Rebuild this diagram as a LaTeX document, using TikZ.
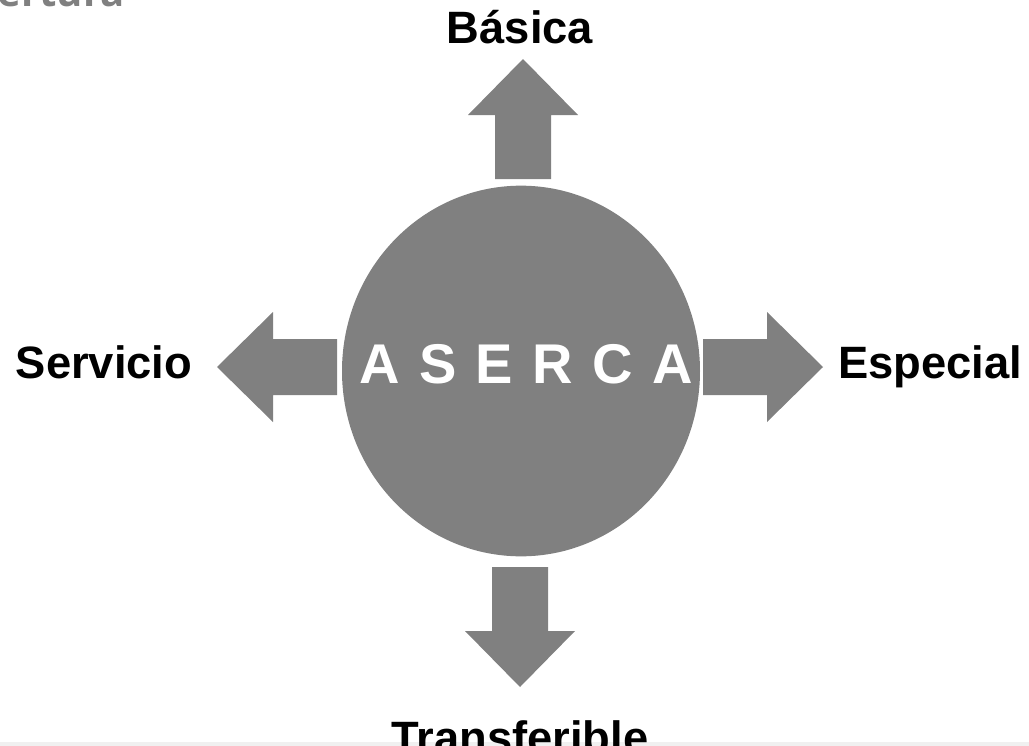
\documentclass[tikz,border=0pt]{standalone}
\usepackage{fontspec}
\setmainfont{Liberation Sans}
\newfontfamily\titlefont{Open Sans}
\definecolor{arrowgray}{HTML}{808080}
\definecolor{stripgray}{HTML}{F0F0F0}
\tikzset{
  label/.style={font=\bfseries\fontsize{34}{34}\selectfont, text=black, inner sep=0pt, anchor=base},
  hub/.style={ellipse, fill=arrowgray, minimum width=268.5pt, minimum height=278pt, inner sep=0pt},
}
\usetikzlibrary{shapes.geometric}
\newcommand{\gapletter}{\hspace{14.5pt}}
\begin{document}
\begin{tikzpicture}[x=0.75pt,y=-0.75pt]
  \useasboundingbox (0,0) rectangle (1029,746);
  \begin{scope}
    \clip (0,0) rectangle (1029,746);
    \fill[stripgray] (0,742) rectangle (1029,746);
    % cut-off title
    \node[anchor=base east, inner sep=0pt, text=arrowgray, font=\titlefont\bfseries\fontsize{30}{30}\selectfont] (title) at (125,7) {Cobertura};
    \node[hub] (aserca) at (521,371) {};
    \node[inner sep=0pt, anchor=base, text=white, font=\bfseries\fontsize{42}{42}\selectfont] (acro) at (526,383)
      {A\gapletter S\gapletter E\gapletter R\gapletter C\gapletter A};
    % block arrows
    \foreach \px/\py/\ang in {523/179/90,520/567/-90,337/367/180,703/367/0}{
      \fill[arrowgray,shift={(\px,\py)},rotate=\ang] (0,-28) -- (64,-28) -- (64,-55) -- (120,0) -- (64,55) -- (64,28) -- (0,28) -- cycle;
    }
    \node[label] (basica) at (520,43) {Básica};
    \node[label] (servicio) at (104,378) {Servicio};
    \node[label] (especial) at (930,378) {Especial};
    \node[label] (transf) at (520,753) {Transferible};
  \end{scope}
\end{tikzpicture}
\end{document}
